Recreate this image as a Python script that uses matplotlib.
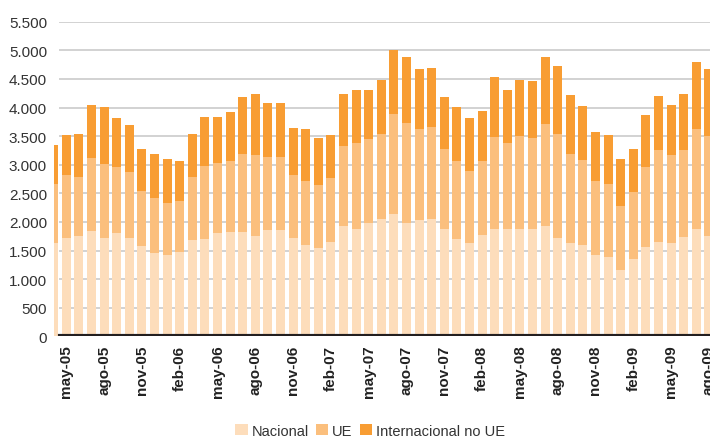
import matplotlib
matplotlib.use("Agg")
import matplotlib.pyplot as plt
from matplotlib.patches import Patch
import numpy as np

months_es = ["ene", "feb", "mar", "abr", "may", "jun", "jul", "ago", "sep", "oct", "nov", "dic"]

# Monthly series from abr-05 to ago-09
start_month, start_year = 4, 2005
nacional = [1632, 1719, 1754, 1841, 1719, 1806, 1719, 1579, 1457, 1422, 1474, 1684, 1701,
            1806, 1824, 1824, 1754, 1859, 1859, 1719, 1597, 1544, 1649, 1929, 1876, 1981,
            2051, 2138, 1981, 2034, 2051, 1876, 1701, 1632, 1771, 1876, 1876, 1876, 1876,
            1929, 1719, 1632, 1597, 1422, 1387, 1160, 1352, 1562, 1649, 1632, 1736, 1876, 1754]
ue_top = [2663, 2820, 2785, 3117, 3013, 2960, 2873, 2541, 2418, 2331, 2366, 2785, 2978,
          3030, 3065, 3187, 3170, 3135, 3135, 2820, 2715, 2645, 2768, 3327, 3380, 3450,
          3537, 3887, 3729, 3624, 3659, 3275, 3065, 2890, 3065, 3485, 3380, 3502, 3467,
          3712, 3537, 3187, 3082, 2715, 2663, 2278, 2523, 2960, 3257, 3170, 3257, 3624, 3502]
total = [3345, 3520, 3537, 4044, 4009, 3817, 3694, 3275, 3187, 3100, 3065, 3537, 3834,
         3834, 3922, 4184, 4236, 4079, 4079, 3642, 3624, 3467, 3520, 4236, 4306, 4306,
         4481, 5005, 4883, 4673, 4691, 4184, 4009, 3817, 3939, 4533, 4306, 4481, 4463,
         4883, 4726, 4219, 4026, 3572, 3520, 3100, 3275, 3869, 4201, 4044, 4236, 4796, 4673]

ue = [u - n for u, n in zip(ue_top, nacional)]
intl = [t - u for t, u in zip(total, ue_top)]

labels = []
for i in range(len(total)):
    m = (start_month - 1 + i) % 12
    y = start_year + (start_month - 1 + i) // 12
    labels.append(f"{months_es[m]}-{y % 100:02d}")

yticks = list(range(0, 5501, 500))
series_names = ["Nacional", "UE", "Internacional no UE"]
colors = ["#FDDDBB", "#FBBF7D", "#F89D33"]

plt.rcParams['font.family'] = ['Liberation Sans', 'DejaVu Sans']

fig = plt.figure(figsize=(7.10, 4.39), dpi=100)
ax = fig.add_axes([54 / 710, (439 - 337.3) / 439, 656 / 710, 314.6 / 439])

x = np.arange(len(total))
w = 0.71
ax.bar(x, nacional, w, color=colors[0], zorder=3)
ax.bar(x, ue, w, bottom=nacional, color=colors[1], zorder=3)
ax.bar(x, intl, w, bottom=ue_top, color=colors[2], zorder=3)

ax.set_xlim(0.02, 52.09)
ax.set_ylim(0, 5500)

xmin_frac = 6 / 656
for v in yticks[1:]:
    ax.axhline(v, xmin=xmin_frac, xmax=1, color="#D2D2D2", lw=1.4, zorder=1)
ax.axhline(0, xmin=xmin_frac, xmax=1, color="#231F20", lw=3, zorder=4)

for s in ax.spines.values():
    s.set_visible(False)

ax.set_yticks(yticks)
ax.set_yticklabels([f"{v:,}".replace(",", ".") for v in yticks], fontsize=11, color="#333333")
tick_idx = [i for i in range(len(labels)) if labels[i].split("-")[0] in ("may", "ago", "nov", "feb")]
ax.set_xticks(tick_idx)
ax.set_xticklabels([labels[i] for i in tick_idx], rotation=90, fontsize=11,
                   fontweight="bold", color="#222222")
ax.tick_params(axis="both", length=0)
ax.tick_params(axis="y", pad=5)
ax.tick_params(axis="x", pad=6)

handles = [Patch(facecolor=c, edgecolor="none") for c in colors]
fig.legend(handles, series_names, loc="center", bbox_to_anchor=(370 / 710, 0.0166),
           ncol=3, frameon=False, fontsize=10.5, handlelength=0.85, handleheight=0.85,
           handletextpad=0.25, columnspacing=0.5, labelcolor="#333333", borderaxespad=0)

fig.savefig("out.png", dpi=100)
